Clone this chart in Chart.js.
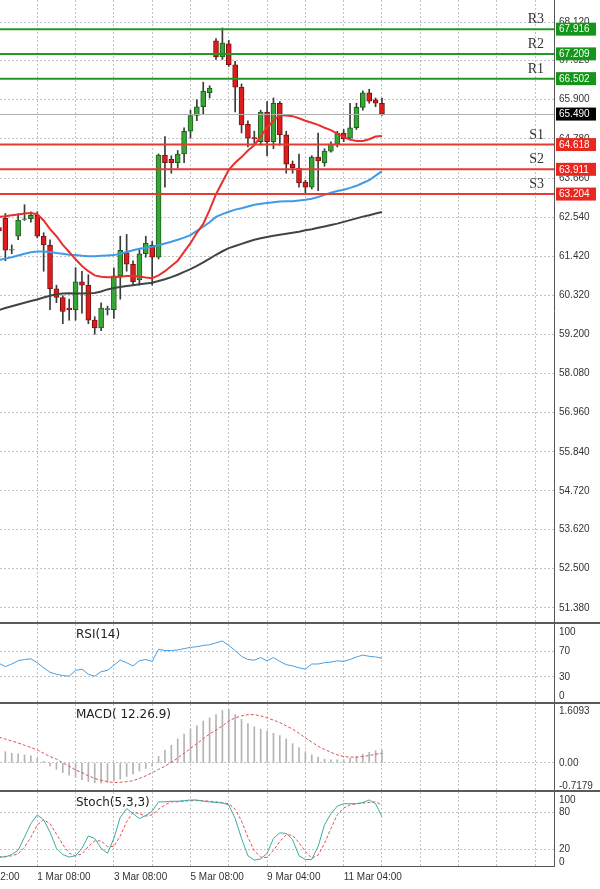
<!DOCTYPE html>
<html><head><meta charset="utf-8">
<script src="https://cdn.jsdelivr.net/npm/chart.js@4"></script>
<style>
body{margin:0;background:#fff;width:600px;height:889px;overflow:hidden;position:relative}
.pane{position:absolute;left:0;width:600px}
canvas{display:block}
</style></head><body>
<div class="pane" style="top:0"><canvas id="main" width="600" height="622"></canvas></div>
<div class="pane" style="top:622px;border-top:2px solid #5b5b5b"><canvas id="rsi" width="600" height="78"></canvas></div>
<div class="pane" style="top:702px;border-top:2px solid #5b5b5b"><canvas id="macd" width="600" height="86"></canvas></div>
<div class="pane" style="top:790px;border-top:2px solid #5b5b5b"><canvas id="stoch" width="600" height="97"></canvas></div>
<script>
// H4 candles, index 0..60
const opens  = [62.25,62.52,61.6,62.0,62.48,62.5,62.6,62.0,61.75,60.5,60.25,59.95,59.9,60.7,60.6,59.6,59.38,59.9,59.9,60.87,61.53,61.2,60.75,61.5,61.75,61.4,64.32,64.2,64.1,64.35,65.0,65.45,65.7,66.1,67.58,67.12,67.5,66.9,66.26,65.2,64.82,64.7,65.55,64.7,65.8,64.9,64.06,63.95,63.55,63.4,64.26,64.1,64.43,64.63,64.95,64.8,65.1,65.68,66.1,65.9,65.8];
const highs  = [62.35,62.65,61.75,62.65,62.9,62.7,62.7,62.1,61.9,60.6,60.3,60.2,61.1,61.0,60.9,59.7,60.1,60.0,61.1,62.0,62.05,61.3,61.65,62.0,61.85,64.35,64.85,64.3,64.45,65.1,65.6,65.9,66.4,66.3,67.65,67.95,67.6,67.0,66.35,65.3,65.0,65.6,65.85,65.95,65.85,65.0,64.15,64.35,63.6,64.3,64.95,64.5,64.7,65.0,65.05,65.8,65.8,66.15,66.2,65.95,65.95];
const lows   = [62.0,61.3,61.5,61.9,62.45,62.4,61.95,61.0,59.9,60.1,59.5,59.6,59.6,59.8,59.5,59.2,59.3,59.75,59.65,60.2,61.0,60.6,60.6,61.4,60.6,61.35,63.4,63.8,63.95,64.1,64.8,65.3,65.5,65.95,67.05,67.05,66.85,65.55,64.95,64.55,64.65,64.6,64.3,64.5,64.6,63.8,63.8,63.4,63.2,63.35,63.3,64.0,64.4,64.55,64.7,64.75,65.05,65.6,65.8,65.7,65.45];
const closes = [62.15,61.6,61.62,62.46,62.5,62.6,62.0,61.75,60.5,60.25,59.85,59.9,60.7,60.6,59.6,59.38,59.95,59.93,60.87,61.6,61.2,60.7,61.5,61.8,61.4,64.32,64.1,64.1,64.35,65.0,65.45,65.7,66.15,66.23,67.12,67.52,66.9,66.26,65.18,64.8,64.78,65.55,64.7,65.8,64.9,64.06,63.95,63.52,63.4,64.26,64.15,64.43,64.63,64.95,64.78,65.1,65.68,66.1,65.86,65.8,65.49];
const maFast = [62.55,62.57,62.6,62.62,62.65,62.66,62.63,62.45,62.2,62.0,61.75,61.55,61.34,61.15,61.0,60.88,60.84,60.83,60.83,60.84,60.86,60.86,60.85,60.82,60.8,60.88,61.0,61.15,61.3,61.55,61.8,62.1,62.35,62.75,63.2,63.55,63.9,64.1,64.26,64.45,64.6,64.85,65.1,65.3,65.46,65.45,65.43,65.37,65.3,65.24,65.18,65.1,65.03,64.93,64.83,64.76,64.72,64.72,64.77,64.85,64.86];
const maMid  = [61.32,61.36,61.4,61.45,61.5,61.54,61.56,61.56,61.55,61.52,61.5,61.47,61.46,61.44,61.43,61.43,61.44,61.45,61.46,61.5,61.55,61.6,61.64,61.67,61.7,61.74,61.79,61.84,61.9,61.96,62.03,62.15,62.27,62.4,62.55,62.63,62.7,62.76,62.8,62.85,62.9,62.93,62.95,62.97,62.99,63.0,63.0,63.02,63.04,63.07,63.12,63.18,63.24,63.29,63.33,63.38,63.44,63.52,63.6,63.73,63.86];
const maSlow = [59.89,59.95,60.0,60.05,60.1,60.15,60.19,60.25,60.3,60.34,60.36,60.37,60.36,60.36,60.37,60.38,60.42,60.48,60.52,60.55,60.58,60.6,60.63,60.65,60.67,60.72,60.77,60.83,60.9,60.98,61.06,61.15,61.25,61.36,61.47,61.57,61.66,61.72,61.78,61.84,61.9,61.94,61.98,62.01,62.04,62.07,62.1,62.13,62.17,62.2,62.24,62.28,62.32,62.36,62.41,62.46,62.51,62.56,62.6,62.65,62.69];
const rsi = [51,46,50,55,57,58,52,44,37,34,32,31,40,42,34,31,38,40,48,56,52,47,55,57,54,73,71,71,72,74,76,77,79,80,83,86,79,71,62,57,56,60,55,60,54,49,47,44,42,50,50,52,53,55,54,57,61,64,62,61,59];
const macdHist = [0.3,0.35,0.3,0.28,0.25,0.22,0.15,0.05,-0.1,-0.2,-0.3,-0.38,-0.45,-0.52,-0.58,-0.62,-0.62,-0.6,-0.55,-0.5,-0.42,-0.34,-0.25,-0.17,-0.1,0.2,0.4,0.55,0.75,0.9,1.05,1.15,1.3,1.4,1.5,1.63,1.66,1.5,1.35,1.22,1.12,1.05,1.0,0.92,0.85,0.75,0.6,0.48,0.35,0.25,0.18,0.12,0.1,0.1,0.1,0.14,0.2,0.27,0.33,0.38,0.4];
const macdSignal = [0.8,0.74,0.68,0.62,0.55,0.48,0.4,0.3,0.2,0.12,0.0,-0.1,-0.22,-0.3,-0.4,-0.48,-0.54,-0.58,-0.61,-0.6,-0.58,-0.55,-0.48,-0.4,-0.3,-0.2,-0.1,0.02,0.15,0.3,0.45,0.6,0.75,0.9,1.02,1.15,1.3,1.4,1.46,1.5,1.5,1.46,1.4,1.33,1.25,1.15,1.05,0.92,0.78,0.65,0.52,0.42,0.33,0.25,0.2,0.18,0.18,0.2,0.23,0.27,0.3];
const stochMain = [8,8,12,19,40,62,76,68,48,22,12,8,10,22,42,38,22,14,38,72,86,78,70,75,82,97,97,98,98,99,100,100,98,97,96,95,92,70,38,10,3,5,14,38,47,46,36,10,4,4,25,60,78,90,94,94,94,96,100,94,73];
const stochSignal = [8,9,10,13,24,40,60,68,62,45,28,14,10,13,25,34,34,25,25,42,65,80,78,74,76,85,92,97,97,98,99,99,99,98,97,96,94,85,66,40,18,8,7,19,33,44,43,31,17,6,11,30,54,76,87,92,94,95,96,97,92];

const priceTicks = [68.12,67.02,65.9,64.78,63.66,62.54,61.42,60.32,59.2,58.08,56.96,55.84,54.72,53.62,52.5,51.38];
const gridIdx = [6,12,18,24,30,36,42,48,54,60,66,72,78,84];
const timeLabels = {6:'1 Mar 08:00',18:'3 Mar 08:00',30:'5 Mar 08:00',42:'9 Mar 04:00',54:'11 Mar 04:00'};
const firstLabel = '26 Feb 12:00';
const levelNames  = ['R3','R2','R1','S1','S2','S3'];
const levelValues = [67.916,67.209,66.502,64.618,63.911,63.204];
const lastPrice = 65.49;

const GREEN = '#1f9a1f', RED = '#e63b30', GRID = '#c2c2c2', TXT = '#333';
const idx = opens.map((_, i) => i);
const pts = arr => arr.map((v, i) => ({x: i, y: v}));

function xAxis(showLabels) {
  return {
    type: 'linear', min: 0.16, max: 86.95, offset: false,
    grid: {color: GRID, drawTicks: false, offset: false},
    border: {display: showLabels, color: '#555', dash: [2, 2]},
    ticks: {display: showLabels, autoSkip: false, maxRotation: 0, align: 'start', padding: 5,
      color: TXT, font: {size: 10, family: 'Liberation Sans'},
      callback: v => timeLabels[v] || ''},
    afterBuildTicks: s => { s.ticks = gridIdx.map(v => ({value: v})); },
    afterFit: s => { s.height = showLabels ? 23 : 0; s.paddingLeft = 0; s.paddingRight = 0; }
  };
}
function yAxis(min, max, ticks, fmt, gridOn) {
  return {
    position: 'right', min, max,
    grid: {drawTicks: false, color: c => (c.tick && gridOn(c.tick.value)) ? GRID : 'rgba(0,0,0,0)'},
    border: {display: true, color: '#555', dash: [2, 2]},
    ticks: {color: TXT, padding: 5, font: {size: 10, family: 'Liberation Sans'}, callback: v => fmt(v)},
    afterBuildTicks: s => { s.ticks = ticks.map(v => ({value: v})); },
    afterFit: s => { s.width = 46; s.paddingTop = 0; s.paddingBottom = 0; }
  };
}
function titlePlugin(text) {
  return {id: 'title_' + text.length, beforeDatasetsDraw(chart) {
    const c = chart.ctx; c.save();
    c.font = '12px "DejaVu Sans"'; c.fillStyle = '#222'; c.textBaseline = 'top';
    c.fillText(text, 76, 5); c.restore();
  }};
}
const base = {responsive: false, animation: false, layout: {padding: 0},
  plugins: {legend: {display: false}, tooltip: {enabled: false}}};

const levelsPlugin = {
  id: 'levels',
  afterDatasetsDraw(chart) {
    const c = chart.ctx, y = chart.scales.y, a = chart.chartArea;
    c.save();
    let py = Math.round(y.getPixelForValue(lastPrice)) + 0.5;
    c.strokeStyle = '#b0b0b0'; c.lineWidth = 1;
    c.beginPath(); c.moveTo(a.left, py); c.lineTo(a.right, py); c.stroke();
    levelValues.forEach((v, i) => {
      py = y.getPixelForValue(v);
      c.strokeStyle = i < 3 ? GREEN : RED; c.lineWidth = 2;
      c.beginPath(); c.moveTo(a.left, py); c.lineTo(a.right, py); c.stroke();
    });
    c.restore();
  },
  afterDraw(chart) {
    const c = chart.ctx, y = chart.scales.y, a = chart.chartArea;
    c.save();
    const box = (v, bg) => {
      const py = y.getPixelForValue(v);
      c.fillStyle = bg; c.fillRect(a.right + 2, py - 6.5, 40, 13);
      c.fillStyle = '#fff'; c.font = '10px "Liberation Sans"'; c.textBaseline = 'middle';
      c.fillText(v.toFixed(3), a.right + 5, py + 0.5);
    };
    levelValues.forEach((v, i) => {
      box(v, i < 3 ? '#14961a' : '#e8281e');
      c.fillStyle = '#333'; c.font = '14px "Liberation Serif"'; c.textAlign = 'right'; c.textBaseline = 'alphabetic';
      c.fillText(levelNames[i], a.right - 10, y.getPixelForValue(v) - 6);
      c.textAlign = 'left';
    });
    box(lastPrice, '#000');
    c.restore();
  }
};

new Chart(document.getElementById('main'), {
  type: 'bar',
  data: {datasets: [
    {type: 'line', data: pts(maFast), borderColor: '#e8302c', borderWidth: 2, pointRadius: 0, order: 1},
    {type: 'line', data: pts(maMid), borderColor: '#3f9be6', borderWidth: 2, pointRadius: 0, order: 1},
    {type: 'line', data: pts(maSlow), borderColor: '#3e4642', borderWidth: 2, pointRadius: 0, order: 1},
    {data: idx.map(i => ({x: i, y: [opens[i], closes[i]]})), barThickness: 5, grouped: false, order: 2,
      backgroundColor: idx.map(i => closes[i] >= opens[i] ? '#36a636' : '#dd1c1c'),
      borderColor: idx.map(i => closes[i] >= opens[i] ? '#1d5e1d' : '#7d1010'),
      borderWidth: 1, borderSkipped: false},
    {data: idx.map(i => ({x: i, y: [lows[i], highs[i]]})), barThickness: 1, grouped: false, order: 3,
      backgroundColor: '#3a3a3a'}
  ]},
  options: {...base, scales: {
    x: xAxis(false),
    y: yAxis(50.977, 68.749, priceTicks, v => v.toFixed(3), () => true)
  }},
  plugins: [levelsPlugin]
});

new Chart(document.getElementById('rsi'), {
  type: 'line',
  data: {datasets: [{data: pts(rsi), borderColor: '#4a9ee0', borderWidth: 1, pointRadius: 0}]},
  options: {...base, scales: {x: xAxis(false),
    y: yAxis(-9.4, 112.5, [100, 70, 30, 0], v => String(v), v => v === 70 || v === 30)}},
  plugins: [titlePlugin('RSI(14)')]
});

new Chart(document.getElementById('macd'), {
  type: 'bar',
  data: {datasets: [
    {type: 'line', data: pts(macdSignal), borderColor: '#e05050', borderWidth: 1, borderDash: [3, 2], pointRadius: 0, order: 1},
    {data: pts(macdHist), barThickness: 1, backgroundColor: '#b4b4b4', grouped: false, order: 2}
  ]},
  options: {...base, scales: {x: xAxis(false),
    y: yAxis(-0.84, 1.83, [1.6093, 0, -0.7179], v => v === 0 ? '0.00' : String(v), v => v === 0)}},
  plugins: [titlePlugin('MACD( 12.26.9)')]
});

new Chart(document.getElementById('stoch'), {
  type: 'line',
  data: {datasets: [
    {data: pts(stochMain), borderColor: '#3aaca4', borderWidth: 1, pointRadius: 0},
    {data: pts(stochSignal), borderColor: '#e05050', borderWidth: 1, borderDash: [3, 2], pointRadius: 0}
  ]},
  options: {...base, scales: {x: xAxis(true),
    y: yAxis(-6.5, 112.9, [100, 80, 20, 0], v => String(v), v => v === 80 || v === 20)}},
  plugins: [titlePlugin('Stoch(5,3,3)'), {id: 'firstLabel', afterDraw(chart) {
    const c = chart.ctx, x = chart.scales.x;
    c.save(); c.font = '10px "Liberation Sans"'; c.fillStyle = TXT; c.textBaseline = 'top';
    c.fillText(firstLabel, x.getPixelForValue(-6), chart.chartArea.bottom + 6); c.restore();
  }}]
});
</script>
</body></html>
